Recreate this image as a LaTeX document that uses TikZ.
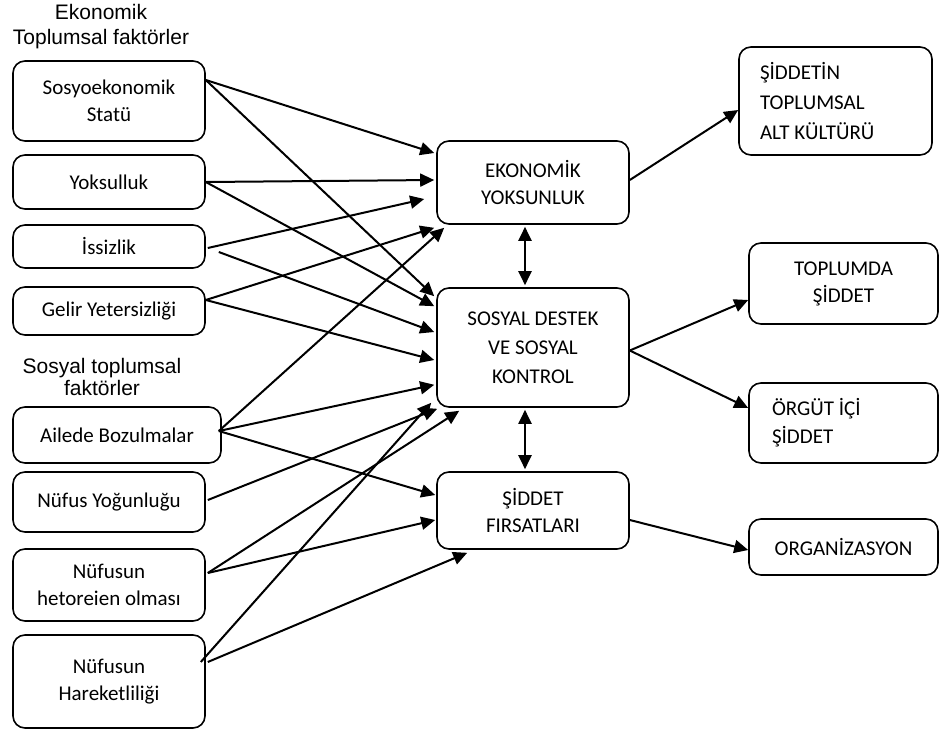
\documentclass[tikz,border=0pt]{standalone}
\usepackage{fontspec}
\setmainfont{Carlito}
\newfontfamily\baslik{Liberation Sans}
\usetikzlibrary{arrows.meta,calc}

\begin{document}
\begin{tikzpicture}[ % 图的属性
    x=0.5pt, y=-0.5pt, % 像素坐标, y 轴向下
    >={Triangle[length=7pt,width=6.5pt]}, % 实心三角箭头
    line width=1pt, % 线宽
    font=\fontsize{10.5}{13.5}\selectfont % 框内字体
  ]
  \tikzstyle{kutu}=[draw, line width=0.8pt, rounded corners=6pt, align=center, inner sep=2pt] % 圆角框
  \tikzstyle{ok}=[->, line width=1pt] % 箭头
  \useasboundingbox (0,0) rectangle (939,729);
  %% node
  % 左列标题
  \node[font=\baslik\fontsize{10.5}{12.5}\selectfont, align=center] (h1) at (101,27) {Ekonomik\\Toplumsal faktörler};
  \node[font=\baslik\fontsize{10.5}{11}\selectfont, align=center] (h2) at (102,377) {Sosyal toplumsal\\faktörler};
  % 左列
  \node[kutu, minimum width=96pt, minimum height=40pt] (sosyo) at (109,101) {Sosyoekonomik\\Statü};
  \node[kutu, minimum width=96pt, minimum height=27pt] (yoksul) at (109,182) {Yoksulluk};
  \node[kutu, minimum width=96pt, minimum height=21.5pt] (issiz) at (109,246.5) {İssizlik};
  \node[kutu, minimum width=96pt, minimum height=24pt] (gelir) at (109,311) {Gelir Yetersizliği};
  \node[kutu, minimum width=104pt, minimum height=28pt] (aile) at (117,435) {Ailede Bozulmalar};
  \node[kutu, minimum width=96pt, minimum height=30pt] (yogun) at (109,502) {Nüfus Yoğunluğu};
  \node[kutu, minimum width=96pt, minimum height=36pt] (hetero) at (109,585) {Nüfusun\\hetoreien olması};
  \node[kutu, minimum width=96pt, minimum height=46.5pt] (hareket) at (109,681.5) {Nüfusun\\Hareketliliği};
  % 中列
  \node[kutu, minimum width=96pt, minimum height=41.5pt] (ekon) at (533,182.5) {EKONOMİK\\YOKSUNLUK};
  \node[kutu, minimum width=96pt, minimum height=59.5pt, font=\fontsize{10.5}{14.5}\selectfont] (destek) at (533,347.5) {SOSYAL DESTEK\\VE SOSYAL\\KONTROL};
  \node[kutu, minimum width=96pt, minimum height=38.5pt] (firsat) at (533,510.5) {ŞİDDET\\FIRSATLARI};
  % 右列
  \node[kutu, minimum width=96.5pt, minimum height=54pt, align=flush left, inner xsep=10.5pt, text width=75.5pt, font=\fontsize{10.5}{15}\selectfont] (kultur) at (835.5,101) {ŞİDDETİN\\TOPLUMSAL\\ALT KÜLTÜRÜ};
  \node[kutu, minimum width=94.5pt, minimum height=40.5pt] (toplum) at (843.5,283.5) {TOPLUMDA\\ŞİDDET};
  \node[kutu, minimum width=94.5pt, minimum height=40pt, align=flush left, inner xsep=11.5pt, text width=71.5pt, font=\fontsize{10.5}{14}\selectfont] (orgut) at (843.5,423) {ÖRGÜT İÇİ\\ŞİDDET};
  \node[kutu, minimum width=94.5pt, minimum height=28pt] (organ) at (843.5,547) {ORGANİZASYON};
  %% path
  \draw[ok] ($(sosyo.east)+(0,-21)$) -- ($(ekon.west)+(-2,-29.5)$);
  \draw[ok] ($(sosyo.east)+(0,-21)$) -- ($(destek.north west)+(-2,9)$);
  \draw[ok] (yoksul.east) -- ($(ekon.west)+(-2,-2.5)$);
  \draw[ok] (yoksul.east) -- ($(destek.north west)+(-2,19)$);
  \draw[ok] ($(issiz.east)+(2,1.5)$) -- ($(ekon.west)+(-12,16.5)$);
  \draw[ok] ($(issiz.east)+(13,5.5)$) -- ($(destek.west)+(-2,-15.5)$);
  \draw[ok] ($(gelir.east)+(0,-11)$) -- ($(ekon.south west)+(-2,3)$);
  \draw[ok] ($(gelir.east)+(0,-11)$) -- ($(destek.west)+(-2,12.5)$);
  \draw[ok] ($(aile.east)+(-3,-4)$) -- ($(ekon.south west)+(8,3)$);
  \draw[ok] ($(aile.east)+(-3,-4)$) -- ($(destek.south west)+(-2,-23)$);
  \draw[ok] ($(aile.east)+(-3,-4)$) -- ($(firsat.west)+(-1,-15.5)$);
  \draw[ok] ($(yogun.east)+(2,-2)$) -- ($(destek.south west)+(1,1)$);
  \draw[ok] ($(hetero.east)+(2,-12)$) -- ($(destek.south west)+(23,3)$);
  \draw[ok] ($(hetero.east)+(2,-12)$) -- ($(firsat.west)+(-1,9.5)$);
  \draw[ok] ($(hareket.east)+(-5,-19.5)$) -- ($(destek.south west)+(-5,-5)$);
  \draw[ok] ($(hareket.east)+(2,-19.5)$) -- ($(firsat.south west)+(31,3)$);
  % 右侧箭头
  \draw[ok] ($(ekon.east)+(0,-2.5)$) -- ($(kultur.west)+(0,9)$);
  \draw[ok] ($(destek.east)+(0,3)$) -- ($(toplum.west)+(0,16.5)$);
  \draw[ok] ($(destek.east)+(0,3)$) -- ($(orgut.west)+(0,-15)$);
  \draw[ok] ($(firsat.east)+(0,9.5)$) -- ($(organ.west)+(0,3)$);
  % 双向箭头
  \draw[<->] ($(ekon.south)+(-8,2)$) -- ($(destek.north)+(-8,-2)$);
  \draw[<->] ($(destek.south)+(-8,2)$) -- ($(firsat.north)+(-8,-2)$);
\end{tikzpicture}
\end{document}
